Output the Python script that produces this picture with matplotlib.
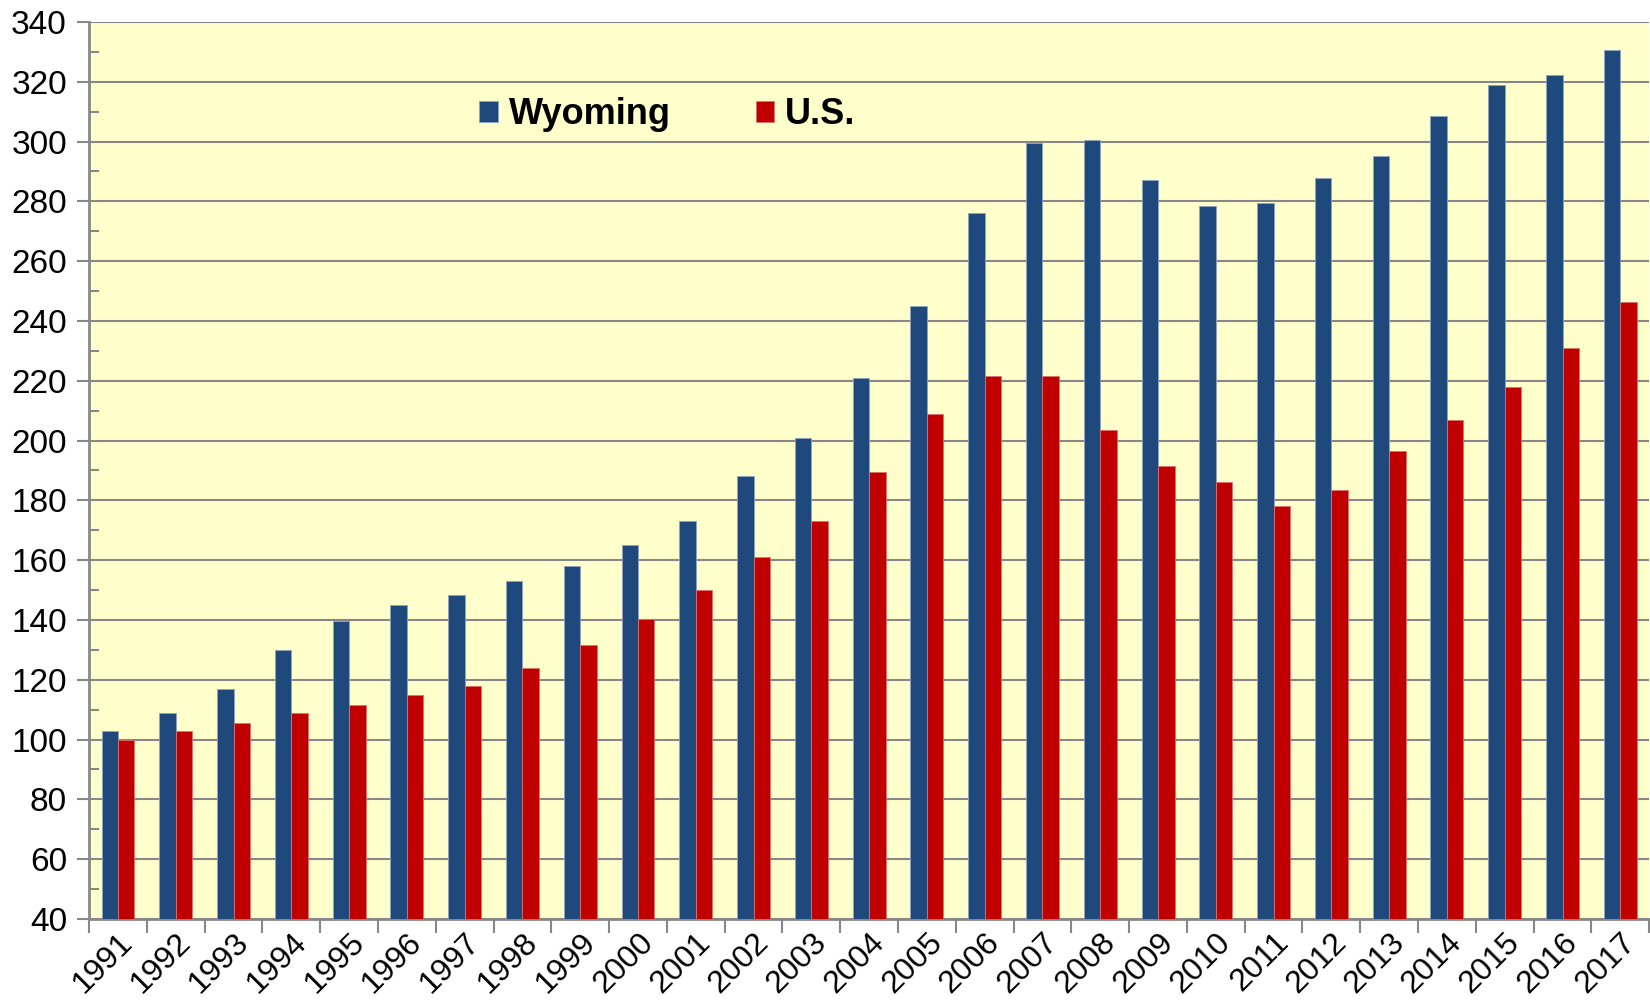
import numpy as np
import matplotlib
matplotlib.use('Agg')
import matplotlib.pyplot as plt
from matplotlib.ticker import MultipleLocator, FixedLocator

plt.rcParams['font.family'] = ['Liberation Sans', 'DejaVu Sans']

years = [str(y) for y in range(1991, 2018)]
wyoming = [103, 109, 117, 130, 139.5, 145, 148.5, 153, 158, 165, 173, 188, 201,
           221, 245, 276, 299.5, 300.5, 287, 278.5, 279.5, 287.7, 295.2, 308.4,
           319, 322.2, 330.6]
us = [100, 103, 105.5, 109, 111.7, 115, 118, 124, 131.5, 140.5, 150, 161, 173,
      189.5, 209, 221.5, 221.5, 203.5, 191.5, 186, 178, 183.5, 196.5, 207,
      218, 230.9, 246.4]

blue = '#1F497D'
red = '#C00000'
grid_gray = '#878787'

fig = plt.figure(figsize=(16.5, 10), dpi=100)
ax = fig.add_axes([0.054, 0.081, 0.9455, 0.897])
ax.set_facecolor('#FFFFCC')

x = np.arange(len(years))
w = 0.285
ax.bar(x - w / 2, wyoming, w, color=blue, edgecolor='#8fa3c0', linewidth=0.6,
       label='Wyoming', zorder=3)
ax.bar(x + w / 2, us, w, color=red, edgecolor='#e07070', linewidth=0.6,
       label='U.S.', zorder=3)

ax.set_ylim(40, 340)
ax.set_xlim(-0.5, len(years) - 0.5)

# y axis: major ticks out, minor ticks in (Excel style)
ax.yaxis.set_major_locator(MultipleLocator(20))
ax.yaxis.set_minor_locator(MultipleLocator(10))
ax.grid(axis='y', which='major', color=grid_gray, linewidth=1.5, zorder=1)
ax.tick_params(axis='y', which='major', direction='out', length=9, width=1.5,
               color=grid_gray, labelsize=24, pad=7)
ax.tick_params(axis='y', which='minor', direction='in', length=7, width=1.5,
               color=grid_gray)

# x axis: ticks between categories, labels at centres
ax.xaxis.set_major_locator(FixedLocator(np.arange(-0.5, len(years), 1.0)))
ax.xaxis.set_major_formatter(plt.NullFormatter())
ax.set_xticks(x, years, minor=True)
ax.tick_params(axis='x', which='major', direction='out', length=10, width=1.5,
               color=grid_gray)
ax.tick_params(axis='x', which='minor', length=0, labelsize=23, pad=6)
for lab in ax.get_xticklabels(minor=True):
    lab.set_rotation(45)
    lab.set_ha('right')
    lab.set_va('top')
    lab.set_rotation_mode('anchor')

for s in ['left', 'bottom']:
    ax.spines[s].set_color(grid_gray)
    ax.spines[s].set_linewidth(2)
ax.spines['top'].set_visible(False)
ax.spines['right'].set_visible(False)

ax.legend(loc='center left', bbox_to_anchor=(0.25, 0.897), ncol=2,
          frameon=False, prop={'weight': 'bold', 'size': 26},
          handlelength=0.52, handleheight=0.52, handletextpad=0.3,
          columnspacing=2.35, borderpad=0, borderaxespad=0)

fig.savefig('out.png', dpi=100)
